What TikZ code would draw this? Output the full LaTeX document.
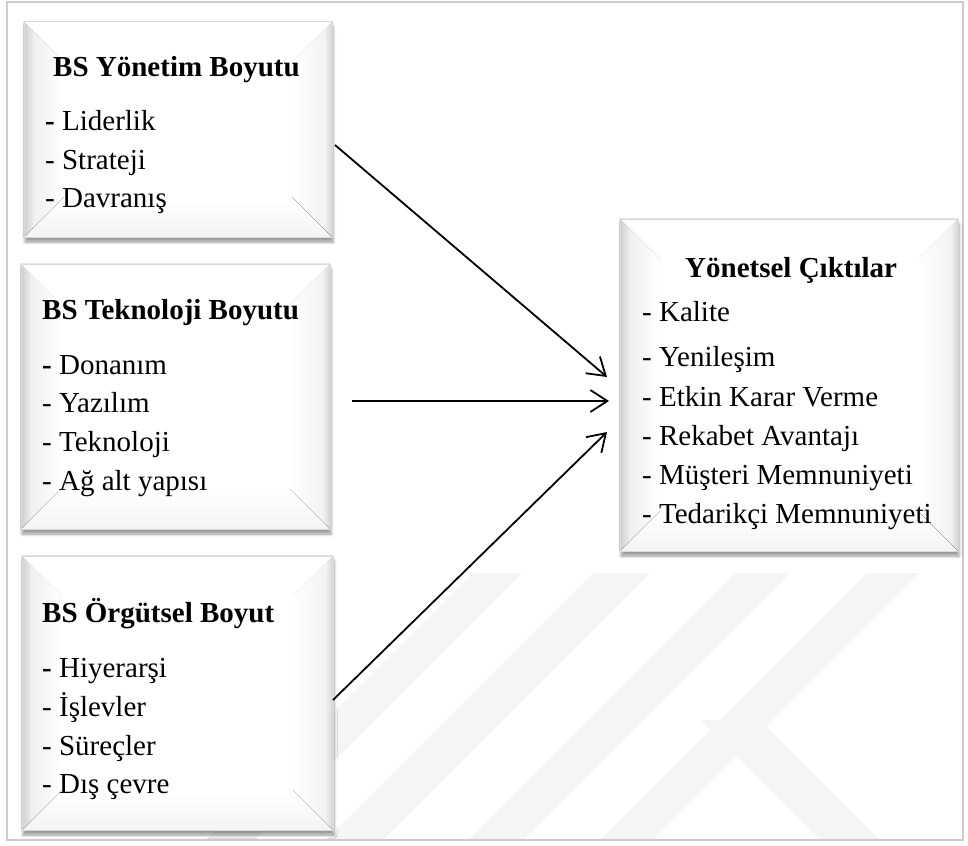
\documentclass[tikz,border=0pt]{standalone}
\usepackage{fontspec}
\setmainfont{Liberation Serif}
\usetikzlibrary{arrows.meta,shadows.blur,fit,calc}

\tikzset{
  frame/.style={draw=gray!40, line width=1.5pt},
  panel/.style={inner sep=0pt, fill=white, draw=none,
    blur shadow={shadow xshift=1pt, shadow yshift=-5pt, shadow blur radius=3pt, shadow opacity=40}},
  ttl/.style={anchor=base west, inner sep=0pt, font=\fontsize{29}{35}\selectfont\bfseries},
  itm/.style={anchor=base west, inner sep=0pt, font=\fontsize{29}{35}\selectfont},
  link/.style={line width=1.8pt, -{Straight Barb[length=17pt,width=22pt,line width=1.8pt]}},
  wm/.style={fill=gray!8, draw=none},
}

% soft bevelled face of a panel node
\newcommand\bevelface[1]{%
  % bottom rim
  \fill[top color=white, bottom color=gray!9]
    ($(#1.south west)+(40,-40)$) -- ($(#1.south east)+(-40,-40)$) -- (#1.south east) -- (#1.south west) -- cycle;
  % right rim
  \fill[left color=white, right color=white!88!gray]
    ($(#1.north east)+(-40,40)$) -- (#1.north east) -- (#1.south east) -- ($(#1.south east)+(-40,-40)$) -- cycle;
  \begin{scope}
    \clip ($(#1.north east)+(-40,40)$) -- (#1.north east) -- (#1.south east) -- ($(#1.south east)+(-40,-40)$) -- cycle;
    \fill[left color=white!88!gray, right color=gray!35] ($(#1.north east)+(-7,0)$) rectangle (#1.south east);
  \end{scope}
  % left rim
  \fill[left color=gray!16, right color=white]
    (#1.north west) -- ($(#1.north west)+(40,40)$) -- ($(#1.south west)+(40,-40)$) -- (#1.south west) -- cycle;
  \begin{scope}
    \clip (#1.north west) -- ($(#1.north west)+(40,40)$) -- ($(#1.south west)+(40,-40)$) -- (#1.south west) -- cycle;
    \fill[left color=gray!38, right color=gray!16] (#1.north west) rectangle ($(#1.south west)+(9,0)$);
  \end{scope}
  % top rim
  \fill[white]
    (#1.north west) -- (#1.north east) -- ($(#1.north east)+(-40,40)$) -- ($(#1.north west)+(40,40)$) -- cycle;
  \draw[gray!22, line width=0.8pt] (#1.north west) -- (#1.north east);
  \draw[gray!30, line width=0.6pt] (#1.north west) rectangle (#1.south east);
}

\begin{document}
\begin{tikzpicture}[x=1pt, y=-1pt]
  \useasboundingbox (0,0) rectangle (968,845);

  % faint watermark stripes
  \fill[wm] (473,573) -- (522,573) -- (255,840) -- (206,840) -- cycle;
  \fill[wm] (593,573) -- (650,573) -- (383,840) -- (326,840) -- cycle;
  \fill[wm] (735,573) -- (790,573) -- (523,840) -- (468,840) -- cycle;
  \fill[wm] (867,573) -- (920,573) -- (653,840) -- (600,840) -- cycle;
  \fill[wm] (700,720) -- (760,720) -- (880,840) -- (820,840) -- cycle;

  % outer frame
  \draw[frame] (7,2) rectangle (963,840);

  % panels
  \node[panel, fit={(24,22) (332,237)}] (b1) {};
  \bevelface{b1}
  \node[panel, fit={(21,264) (330,529)}] (b2) {};
  \bevelface{b2}
  \node[panel, fit={(22,556) (333,830)}] (b3) {};
  \bevelface{b3}
  \node[panel, fit={(620,219) (958,551)}] (b4) {};
  \bevelface{b4}

  % panel 1
  \node[ttl] (t1) at (53,77) {BS Yönetim Boyutu};
  \node[itm] (p1a) at (45,131) {\textbf{-} Liderlik};
  \node[itm] (p1b) at (45,169) {- Strateji};
  \node[itm] (p1c) at (45,207) {- Davranış};

  % panel 2
  \node[ttl] (t2) at (42,319) {BS Teknoloji Boyutu};
  \node[itm] (p2a) at (42,374) {\textbf{-} Donanım};
  \node[itm] (p2b) at (42,412) {- Yazılım};
  \node[itm] (p2c) at (42,451) {- Teknoloji};
  \node[itm] (p2d) at (42,490) {- Ağ alt yapısı};

  % panel 3
  \node[ttl] (t3) at (42,622) {BS Örgütsel Boyut};
  \node[itm] (p3a) at (42,677) {\textbf{-} Hiyerarşi};
  \node[itm] (p3b) at (42,716) {- İşlevler};
  \node[itm] (p3c) at (42,755) {- Süreçler};
  \node[itm] (p3d) at (42,793) {- Dış çevre};

  % panel 4
  \node[ttl] (t4) at (685,277) {Yönetsel Çıktılar};
  \node[itm] (p4a) at (642,321) {- Kalite};
  \node[itm] (p4b) at (642,366) {- Yenileşim};
  \node[itm] (p4c) at (642,406) {- Etkin Karar Verme};
  \node[itm] (p4d) at (642,445) {- Rekabet Avantajı};
  \node[itm] (p4e) at (642,484) {- Müşteri Memnuniyeti};
  \node[itm] (p4f) at (642,523) {- Tedarikçi Memnuniyeti};

  % connectors
  \coordinate (a1s) at (335,145);
  \coordinate (a1e) at (607,377);
  \coordinate (a2s) at (352,401);
  \coordinate (a2e) at (609,401);
  \coordinate (a3s) at (333,700);
  \coordinate (a3e) at (607,432);
  \draw[link] (a1s) -- (a1e);
  \draw[link] (a2s) -- (a2e);
  \draw[link] (a3s) -- (a3e);
\end{tikzpicture}
\end{document}
